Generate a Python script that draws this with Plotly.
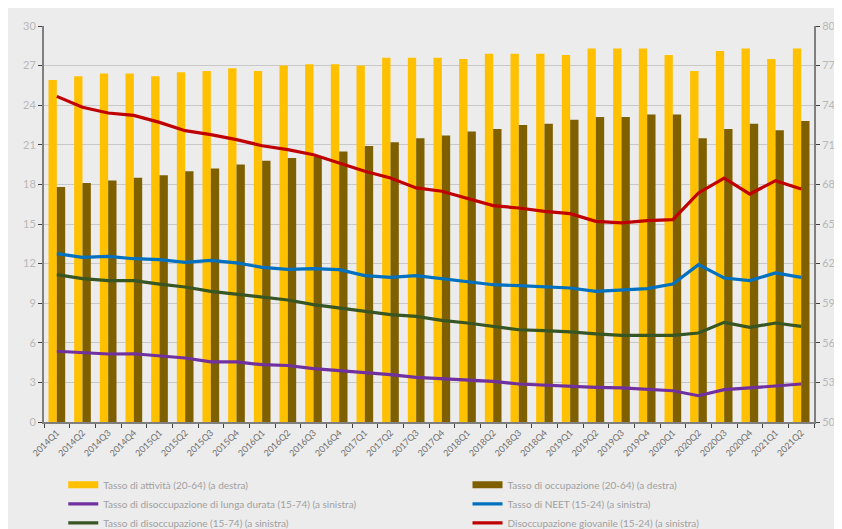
import plotly.graph_objects as go

quarters = ["2014Q1","2014Q2","2014Q3","2014Q4","2015Q1","2015Q2","2015Q3","2015Q4",
            "2016Q1","2016Q2","2016Q3","2016Q4","2017Q1","2017Q2","2017Q3","2017Q4",
            "2018Q1","2018Q2","2018Q3","2018Q4","2019Q1","2019Q2","2019Q3","2019Q4",
            "2020Q1","2020Q2","2020Q3","2020Q4","2021Q1","2021Q2"]

attivita = [75.9, 76.2, 76.4, 76.4, 76.2, 76.5, 76.6, 76.8, 76.6, 77.0,
            77.1, 77.1, 77.0, 77.6, 77.6, 77.6, 77.5, 77.9, 77.9, 77.9,
            77.8, 78.3, 78.3, 78.3, 77.8, 76.6, 78.1, 78.3, 77.5, 78.3]

occupazione = [67.8, 68.1, 68.3, 68.5, 68.7, 69.0, 69.2, 69.5, 69.8, 70.0,
               70.1, 70.5, 70.9, 71.2, 71.5, 71.7, 72.0, 72.2, 72.5, 72.6,
               72.9, 73.1, 73.1, 73.3, 73.3, 71.5, 72.2, 72.6, 72.1, 72.8]

lunga_durata = [5.36, 5.23, 5.15, 5.17, 4.98, 4.85, 4.55, 4.55, 4.34, 4.28,
                4.04, 3.89, 3.76, 3.59, 3.38, 3.28, 3.21, 3.08, 2.88, 2.78,
                2.72, 2.63, 2.58, 2.50, 2.37, 1.99, 2.45, 2.58, 2.75, 2.88]

neet = [12.75, 12.47, 12.55, 12.37, 12.30, 12.10, 12.25, 12.05, 11.72, 11.56,
        11.62, 11.54, 11.09, 10.96, 11.09, 10.86, 10.66, 10.40, 10.33, 10.23,
        10.15, 9.90, 10.02, 10.10, 10.45, 11.92, 10.91, 10.71, 11.29, 10.96]

disoccupazione = [11.16, 10.86, 10.71, 10.71, 10.45, 10.23, 9.90, 9.70, 9.49, 9.24,
                  8.89, 8.64, 8.38, 8.13, 8.00, 7.70, 7.50, 7.25, 6.99, 6.92,
                  6.83, 6.67, 6.57, 6.57, 6.57, 6.74, 7.55, 7.17, 7.50, 7.25]

giovanile = [24.67, 23.84, 23.41, 23.23, 22.70, 22.07, 21.77, 21.39, 20.93, 20.63,
             20.25, 19.62, 18.99, 18.48, 17.73, 17.48, 16.92, 16.39, 16.21, 15.96,
             15.78, 15.20, 15.08, 15.25, 15.33, 17.35, 18.48, 17.27, 18.28, 17.65]

left_ticks = list(range(0, 31, 3))
right_ticks = list(range(50, 81, 3))

fig = go.Figure()

bar_specs = [
    (attivita, "Tasso di attività (20-64) (a destra)", "#FFC000", "legend"),
    (occupazione, "Tasso di occupazione (20-64) (a destra)", "#7F6000", "legend2"),
]
for vals, nm, col, lg in bar_specs:
    fig.add_trace(go.Bar(x=quarters, y=vals, name=nm, legendgroup=nm, showlegend=False,
                         marker=dict(color=col, line=dict(width=0)), yaxis="y"))

line_specs = [
    (lunga_durata, "Tasso di disoccupazione di lunga durata (15-74) (a sinistra)", "#7030A0", "legend"),
    (neet, "Tasso di NEET (15-24) (a sinistra)", "#0070C0", "legend2"),
    (disoccupazione, "Tasso di disoccupazione (15-74) (a sinistra)", "#375623", "legend"),
    (giovanile, "Disoccupazione giovanile (15-24) (a sinistra)", "#C00000", "legend2"),
]

# legend entries for the bars (wide rectangular key like the original)
for vals, nm, col, lg in bar_specs:
    fig.add_trace(go.Scatter(x=[None], y=[None], name=nm, legendgroup=nm, mode="lines",
                             line=dict(color=col, width=7), yaxis="y2", legend=lg,
                             hoverinfo="skip"))

for vals, nm, col, lg in line_specs:
    fig.add_trace(go.Scatter(x=quarters, y=vals, name=nm, mode="lines", legend=lg,
                             line=dict(color=col, width=3.2), yaxis="y2"))

tickfont_y = dict(family="Lato", size=11, color="#b8b8b8")
legend_font = dict(family="Lato", size=10, color="#a0a0a0")

fig.update_layout(
    width=842, height=529,
    paper_bgcolor="#ececec", plot_bgcolor="#ececec",
    margin=dict(l=36, r=36, t=18, b=115, autoexpand=False),
    barmode="group", bargap=0.35, bargroupgap=0,
    font=dict(family="Lato", color="#999999"),
    xaxis=dict(
        type="category", tickangle=-45, tickfont=dict(family="Lato", size=9, color="#707070"),
        showline=True, linecolor="#7f7f7f", linewidth=2,
        ticks="outside", tickson="boundaries", ticklen=4, tickcolor="#404040",
        showgrid=False, range=[-0.5, 29.5],
    ),
    yaxis=dict(
        side="right", range=[50, 80], tickvals=right_ticks, tickfont=tickfont_y,
        showline=True, linecolor="#7f7f7f", linewidth=2, ticklabeloverflow="allow",
        ticks="outside", ticklen=4, tickcolor="#404040",
        showgrid=True, gridcolor="#c8c8c8", gridwidth=1, zeroline=False,
    ),
    yaxis2=dict(
        side="left", overlaying="y", range=[0, 30], tickvals=left_ticks, tickfont=tickfont_y,
        showline=True, linecolor="#7f7f7f", linewidth=2, ticklabeloverflow="allow",
        ticks="outside", ticklen=4, tickcolor="#404040",
        showgrid=False, zeroline=False,
    ),
    legend=dict(
        orientation="v", x=0.025, xanchor="left", y=-0.122, yanchor="top",
        font=legend_font, bgcolor="rgba(0,0,0,0)", itemwidth=30, tracegroupgap=0,
        traceorder="normal",
    ),
    legend2=dict(
        orientation="v", x=0.55, xanchor="left", y=-0.122, yanchor="top",
        font=legend_font, bgcolor="rgba(0,0,0,0)", itemwidth=30, tracegroupgap=0,
        traceorder="normal",
    ),
    showlegend=True,
)

fig.write_html("out.html")
